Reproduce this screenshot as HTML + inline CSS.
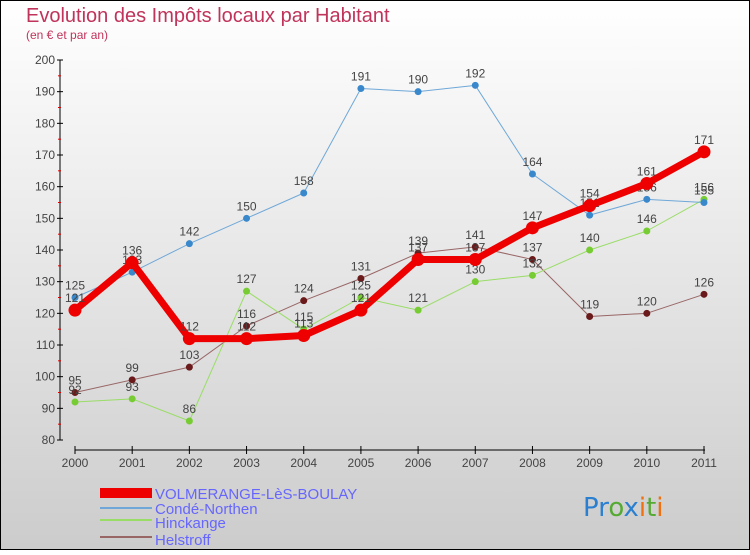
<!DOCTYPE html>
<html><head><meta charset="utf-8"><style>
body{margin:0}
#c{width:750px;height:550px;position:relative;font-family:"Liberation Sans",sans-serif}
</style></head><body>
<div id="c">
<svg id="s" width="750" height="550" xmlns="http://www.w3.org/2000/svg">
<defs><linearGradient id="bg" x1="0" y1="0" x2="0" y2="1"><stop offset="0" stop-color="#ffffff"/><stop offset="1" stop-color="#cccccc"/></linearGradient></defs>
<rect x="0.5" y="0.5" width="749" height="549" fill="url(#bg)" stroke="#000"/>
<text x="26" y="22" font-size="20" fill="#c0335a">Evolution des Impôts locaux par Habitant</text>
<text x="26" y="39" font-size="12" fill="#c0335a">(en € et par an)</text>
<g id="axes"></g><g id="series"></g>
<g>
<rect x="100" y="488" width="52" height="10" fill="#e00"/>
<text x="155" y="499" font-size="15" fill="#6666ff">VOLMERANGE-LèS-BOULAY</text>
<rect x="100" y="507" width="52" height="2" fill="#6fa8d8"/>
<text x="155" y="514" font-size="15" fill="#6666ff">Condé-Northen</text>
<rect x="100" y="519" width="52" height="2" fill="#99dd66"/>
<text x="155" y="528" font-size="15" fill="#6666ff">Hinckange</text>
<rect x="100" y="536" width="52" height="2" fill="#996666"/>
<text x="155" y="545" font-size="15" fill="#6666ff">Helstroff</text>
</g>
<text x="583" y="516" font-size="26" font-family="DejaVu Sans"><tspan fill="#2a7fd0">Pr</tspan><tspan fill="#55aa33">o</tspan><tspan fill="#2a7fd0">x</tspan><tspan fill="#f07010">i</tspan><tspan fill="#55aa33">t</tspan><tspan fill="#f07010">i</tspan></text>
</svg></div>
<script>
const years=[2000,2001,2002,2003,2004,2005,2006,2007,2008,2009,2010,2011];
const volmerange=[121,136,112,112,113,121,137,137,147,154,161,171];
const conde=[125,133,142,150,158,191,190,192,164,151,156,155];
const hinckange=[92,93,86,127,115,125,121,130,132,140,146,156];
const helstroff=[95,99,103,116,124,131,139,141,137,119,120,126];
const yTicks=[80,90,100,110,120,130,140,150,160,170,180,190,200];
const NS="http://www.w3.org/2000/svg";
const xs=i=>75+i*(704-75)/11;
const ys=v=>440-(v-80)*380/120;
function mk(t,a,p){const e=document.createElementNS(NS,t);for(const k in a)e.setAttribute(k,a[k]);p.appendChild(e);return e;}
const ax=document.getElementById('axes');
mk('line',{x1:60,y1:60,x2:60,y2:440,stroke:'#000'},ax);
mk('line',{x1:75,y1:450,x2:705,y2:450,stroke:'#000'},ax);
yTicks.forEach(v=>{
 const l=mk('line',{x1:57,y1:ys(v),x2:63,y2:ys(v),stroke:'#000'},ax);
 
 
 if(v<200){const m=mk('line',{x1:58,y1:ys(v+5),x2:61,y2:ys(v+5),stroke:'#d00'},ax);
 
 }
 const t=mk('text',{x:55,y:ys(v)+4,'font-size':12,fill:'#444','text-anchor':'end'},ax);t.textContent=v;
 
 
});
years.forEach((y,i)=>{
 const l=mk('line',{x1:xs(i),y1:446,x2:xs(i),y2:454,stroke:'#000'},ax);
 
 
 const t=mk('text',{x:xs(i),y:467,'font-size':12,fill:'#444','text-anchor':'middle'},ax);t.textContent=y;
 
 
});
const sg=document.getElementById('series');
function series(name,vals,color,w,r,dot){
 const g=mk('g',{},sg);
 
 
 const p=mk('polyline',{points:vals.map((v,i)=>xs(i)+','+ys(v)).join(' '),fill:'none',stroke:color,'stroke-width':w,'stroke-linejoin':'round'},g);
 
 
 vals.forEach((v,i)=>{
  const c=mk('circle',{cx:xs(i),cy:ys(v),r:r,fill:dot},g);
  
  
  const t=mk('text',{x:xs(i),y:ys(v)-8,'font-size':12,fill:'#444','text-anchor':'middle'},g);t.textContent=v;
  
  
 });
}
series('helstroff',helstroff,'#996666',1,3.5,'#6a1a1a');
series('hinckange',hinckange,'#99dd66',1,3.5,'#77cc33');
series('conde',conde,'#6fa8d8',1,3.5,'#3a88cc');
series('volmerange',volmerange,'#ee0000',7,6.5,'#ee0000');
</script>
</body></html>
